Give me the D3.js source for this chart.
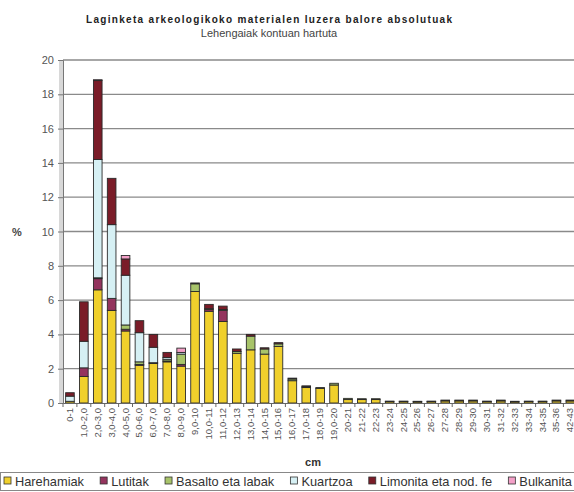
<!DOCTYPE html>
<html><head><meta charset="utf-8">
<script src="https://cdn.jsdelivr.net/npm/d3@7"></script>
<style>html,body{margin:0;padding:0;background:#fff;overflow:hidden}svg{display:block;font-family:"Liberation Sans",Arial,sans-serif}</style>
</head><body><svg id="c" width="574" height="492"></svg>
<script>
const categories = ["0-1","1,0-2,0","2,0-3,0","3,0-4,0","4,0-5,0","5,0-6,0","6,0-7,0","7,0-8,0","8,0-9,0","9,0-10","10,0-11","11,0-12","12,0-13","13,0-14","14,0-15","15,0-16","16,0-17","17,0-18","18,0-19","19,0-20","20-21","21-22","22-23","23-24","24-25","25-26","26-27","27-28","28-29","29-30","30-31","31-32","32-33","33-34","34-35","35-36","42-43"];
const seriesNames = ["Harehamiak","Lutitak","Basalto eta labak","Kuartzoa","Limonita eta nod. fe","Bulkanita"];
const harehamiak = [0.1,1.55,6.6,5.4,4.2,2.2,2.3,2.4,2.15,6.5,5.35,4.75,2.9,3.1,2.85,3.3,1.3,0.9,0.85,1.05,0.2,0.2,0.2,0.08,0.08,0.07,0.08,0.12,0.12,0.12,0.08,0.12,0.07,0.08,0.08,0.12,0.12];
const lutitak = [0,0.5,0.65,0.7,0.1,0.05,0,0.05,0.1,0,0.1,0.65,0,0,0,0,0,0,0,0,0,0,0,0,0,0,0,0,0,0,0,0,0,0,0,0,0];
const basalto = [0,0,0.05,0,0.25,0.15,0.05,0.1,0.6,0.45,0.05,0.05,0.1,0.8,0.3,0.15,0.1,0.05,0.05,0.1,0.07,0.05,0.05,0,0,0,0,0,0,0,0,0,0,0,0,0,0];
const kuartzoa = [0.3,1.55,6.9,4.3,2.9,1.7,0.9,0.1,0.1,0,0,0,0,0,0,0,0,0,0,0,0,0,0,0,0,0,0,0,0,0,0,0,0,0,0,0,0];
const limonita = [0.2,2.3,4.6,2.7,0.95,0.7,0.75,0.3,0,0.05,0.25,0.2,0.15,0.1,0.07,0.07,0.05,0.05,0,0,0,0,0,0.03,0.03,0.03,0.03,0.05,0.05,0.05,0.03,0.05,0.03,0.03,0.03,0.05,0.05];
const bulkanita = [0,0,0.05,0,0.2,0,0,0,0.25,0,0,0,0,0,0,0,0,0,0,0,0,0,0,0,0,0,0,0,0,0,0,0,0,0,0,0,0];
const yTicks = [0,2,4,6,8,10,12,14,16,18,20];
const colors = ["#f0d02c","#94345e","#a8c46a","#d6f0f4","#7a1c28","#f4a0c8"];

const seriesVals = [harehamiak,lutitak,basalto,kuartzoa,limonita,bulkanita];
const rows = categories.map((c,i)=>{const r={cat:c}; seriesNames.forEach((s,j)=>r[s]=seriesVals[j][i]); return r;});
const stack = d3.stack().keys(seriesNames)(rows);

const svg = d3.select("#c");
const L=63, T=60, B=403, step=13.9;
const R = L + step*categories.length;
const x = d3.scaleBand().domain(categories).range([L,R]).paddingInner(0.38).paddingOuter(0.19);
const y = d3.scaleLinear().domain([0,20]).range([B,T]);

svg.append("rect").attr("x",L-4).attr("y",T).attr("width",4).attr("height",B-T).attr("fill","#d8d8d8");
svg.append("g").selectAll("line").data(yTicks.filter(d=>d>0)).join("line")
  .attr("x1",L).attr("x2",R).attr("y1",d=>y(d)).attr("y2",d=>y(d))
  .attr("stroke","#8a8a8a").attr("stroke-width",1.3);

svg.append("g").selectAll("g").data(stack).join("g").attr("fill",(d,i)=>colors[i])
  .selectAll("rect").data(d=>d.filter(p=>p[1]-p[0]>0)).join("rect")
  .attr("x",d=>x(d.data.cat)).attr("width",x.bandwidth())
  .attr("y",d=>y(d[1])).attr("height",d=>y(d[0])-y(d[1]))
  .attr("stroke","#2a2a2a").attr("stroke-width",0.9);

const ya = svg.append("g").attr("transform",`translate(${L},0)`)
  .call(d3.axisLeft(y).tickValues(yTicks).tickSize(5).tickPadding(4));
ya.select(".domain").attr("stroke","#777");
ya.selectAll(".tick line").attr("stroke","#777");
ya.selectAll("text").attr("font-size",11).attr("fill","#555").attr("font-family","Liberation Sans,Arial,sans-serif");

const xa = svg.append("g").attr("transform",`translate(0,${B})`)
  .call(d3.axisBottom(x).tickSize(0).tickPadding(0));
xa.select(".domain").attr("stroke","#666");
xa.selectAll(".tick text").attr("font-size",9.5).attr("fill","#555")
  .attr("font-family","Liberation Sans,Arial,sans-serif")
  .attr("text-anchor","end").attr("dy","0.32em")
  .attr("transform","translate(0,5) rotate(-90)");
svg.append("g").selectAll("line").data(categories).join("line")
  .attr("x1",d=>x(d)-x.step()*x.paddingInner()/2).attr("x2",d=>x(d)-x.step()*x.paddingInner()/2)
  .attr("y1",B).attr("y2",B+4).attr("stroke","#666");

svg.append("text").attr("x",269).attr("y",23).attr("text-anchor","middle")
  .attr("font-size",10).attr("font-weight","bold").attr("fill","#222")
  .attr("textLength",366).attr("lengthAdjust","spacing")
  .text("Laginketa arkeologikoko materialen luzera balore absolutuak");
svg.append("text").attr("x",269).attr("y",37).attr("text-anchor","middle")
  .attr("font-size",11).attr("fill","#444").text("Lehengaiak kontuan hartuta");
svg.append("text").attr("x",17).attr("y",236).attr("text-anchor","middle")
  .attr("font-size",11).attr("font-weight","bold").attr("fill","#444").text("%");
svg.append("text").attr("x",313).attr("y",466).attr("text-anchor","middle")
  .attr("font-size",11).attr("font-weight","bold").attr("fill","#333").text("cm");

// legend
svg.append("rect").attr("x",0.5).attr("y",472.5).attr("width",600).attr("height",18)
  .attr("fill","#fff").attr("stroke","#888");
const lg = svg.append("g").attr("font-size",12.8).attr("fill","#333");
const items = seriesNames.map((s,i)=>{
  const m = lg.append("rect").attr("y",477).attr("width",7).attr("height",7)
    .attr("fill",colors[i]).attr("stroke","#333").attr("stroke-width",0.8);
  const t = lg.append("text").attr("y",485.5).text(s);
  return {m,t,w:t.node().getComputedTextLength()};
});
const textTot = d3.sum(items,d=>d.w);
const startX = 4, endX = 572;
const gap = (endX-startX - textTot - items.length*11)/(items.length-1);
let lx = startX;
items.forEach(it=>{
  it.m.attr("x",lx); it.t.attr("x",lx+11);
  lx += 11 + it.w + gap;
});
</script></body></html>
